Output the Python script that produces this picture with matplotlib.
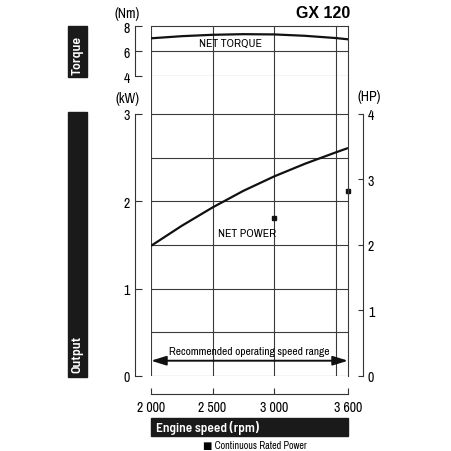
import matplotlib
matplotlib.use("Agg")
import matplotlib.pyplot as plt

plt.rcParams['font.family'] = ['Archivo Narrow', 'DejaVu Sans']
BOLD = ['Barlow Semi Condensed', 'DejaVu Sans']

# data
rpm = [2000, 2250, 2500, 2750, 3000, 3250, 3500, 3600]
torque_nm = [7.04, 7.21, 7.32, 7.37, 7.35, 7.24, 7.06, 6.96]
power_kw = [1.49, 1.72, 1.93, 2.12, 2.285, 2.43, 2.56, 2.61]
rated_rpm = [3000, 3600]
rated_kw = [1.81, 2.12]
rpm_ticks = [2000, 2500, 3000, 3600]
rpm_labels = ['2 000', '2 500', '3 000', '3 600']
grid_rpm = [2500, 3000, 3500]

W = H = 452.0
GRID = '#3a3a3a'


def box(x0, y0, x1, y1):
    # pixel box (top-left origin) -> figure fraction rect
    return [x0 / W, 1 - y1 / H, (x1 - x0) / W, (y1 - y0) / H]


def pt(px):
    return px * 72.0 / 100


fig = plt.figure(figsize=(4.52, 4.52), dpi=100)

# power axes carries the whole frame (top reaches torque panel)
ax = fig.add_axes(box(151, 27.3, 348, 377))
ax.set_xlim(2000, 3600)
ax.set_ylim(0, 4.004)
for s in ['top', 'right']:
    ax.spines[s].set_color(GRID)
    ax.spines[s].set_linewidth(0.8)
ax.axvline(2000, color=GRID, lw=0.8)
ax.axhline(0, color=GRID, lw=0.8)
for r in grid_rpm:
    ax.axvline(r, color=GRID, lw=0.8)
for k in [0.5, 1, 1.5, 2, 2.5, 3]:
    ax.axhline(k, color=GRID, lw=0.8)

ax.spines['left'].set_position(('outward', pt(16.5)))
ax.spines['left'].set_bounds(0, 3)
ax.spines['bottom'].set_position(('outward', pt(18)))
ax.spines['bottom'].set_bounds(2000, 3600)
for s in ['left', 'bottom']:
    ax.spines[s].set_color('#333333')
    ax.spines[s].set_linewidth(0.8)
ax.set_yticks([0, 1, 2, 3])
ax.set_xticks(rpm_ticks)
ax.set_xticklabels(rpm_labels)
ax.tick_params(axis='y', direction='in', length=pt(6.5), width=0.8,
               pad=pt(5), labelsize=10, color='#333333')
ax.tick_params(axis='x', direction='in', length=pt(6), width=0.8,
               pad=pt(6), labelsize=10, color='#333333')

ax.plot(rpm, power_kw, color='#111111', lw=1.6, solid_capstyle='butt')
ax.plot(rated_rpm, rated_kw, 's', color='#111111', ms=3.2, clip_on=False)
ax.text(2777, 1.64, 'NET POWER', ha='center', va='center', fontsize=8.4)
ax.annotate('', xy=(2000, 0.175), xytext=(3600, 0.175),
            arrowprops=dict(arrowstyle='<|-|>,head_length=0.9,head_width=0.28',
                            color='#111111', lw=1.4, shrinkA=0, shrinkB=0))
ax.text(2800, 0.29, 'Recommended operating speed range', ha='center',
        va='center', fontsize=8.2)

# HP scale on the right
hp = ax.twinx()
hp.set_ylim(0, 4.004 * 4 / 3)
for s in ['top', 'left', 'bottom']:
    hp.spines[s].set_visible(False)
hp.spines['right'].set_position(('outward', pt(15)))
hp.spines['right'].set_bounds(0, 4)
hp.spines['right'].set_color('#333333')
hp.spines['right'].set_linewidth(0.8)
hp.set_yticks([0, 1, 2, 3, 4])
hp.tick_params(axis='y', direction='in', length=pt(5), width=0.8,
               pad=pt(5), labelsize=10, color='#333333')

# torque panel
axt = fig.add_axes(box(151, 27.3, 348, 77.3))
axt.patch.set_visible(False)
axt.set_xlim(2000, 3600)
axt.set_ylim(4, 8)
for s in ['top', 'right', 'bottom']:
    axt.spines[s].set_visible(False)
axt.spines['left'].set_position(('outward', pt(16.5)))
axt.spines['left'].set_color('#333333')
axt.spines['left'].set_linewidth(0.8)
axt.set_xticks([])
axt.set_yticks([4, 6, 8])
axt.tick_params(axis='y', direction='in', length=pt(6.5), width=0.8,
                pad=pt(5), labelsize=10, color='#333333')
axt.axhline(6, color=GRID, lw=0.8)
axt.axhline(4, color=GRID, lw=0.8)
axt.plot(rpm, torque_nm, color='#111111', lw=1.6)
axt.text(2647, 6.65, 'NET TORQUE', ha='center', va='center', fontsize=8.4)

# units and title
fig.text(127.5 / W, 1 - 14 / H, '(Nm)', ha='center', va='center', fontsize=10)
fig.text(127.5 / W, 1 - 98.5 / H, '(kW)', ha='center', va='center', fontsize=10)
fig.text(369 / W, 1 - 97 / H, '(HP)', ha='center', va='center', fontsize=10)
fig.text(350 / W, 1 - 14 / H, 'GX 120', ha='right', va='center',
         fontsize=11.5, fontweight='bold', family='Liberation Sans')

# black label bars
for (x0, y0, x1, y1), label, ty in [((68, 27.3, 87, 78.3), 'Torque', 55),
                                     ((68, 113.3, 87, 378.3), 'Output', 354.5)]:
    fig.patches.append(plt.Rectangle((x0 / W, 1 - y1 / H), (x1 - x0) / W,
                                     (y1 - y0) / H, transform=fig.transFigure,
                                     color='#1a1a1a', zorder=0))
    fig.text(77.5 / W, 1 - ty / H, label, rotation=90, ha='center',
             va='center', color='white', fontsize=10, fontweight='semibold',
             family=BOLD)

# x axis title bar
fig.patches.append(plt.Rectangle((151 / W, 1 - 437 / H), 197 / W, 18 / H,
                                 transform=fig.transFigure, color='#1a1a1a',
                                 zorder=0))
fig.text(156.5 / W, 1 - 428 / H, 'Engine speed (rpm)', ha='left',
         va='center', color='white', fontsize=9.6, fontweight='semibold',
         family=BOLD)
fig.text(203 / W, 1 - 446 / H, '\u25a0 Continuous Rated Power', ha='left',
         va='center', fontsize=7.2)

fig.savefig('out.png', dpi=100, facecolor='white')
